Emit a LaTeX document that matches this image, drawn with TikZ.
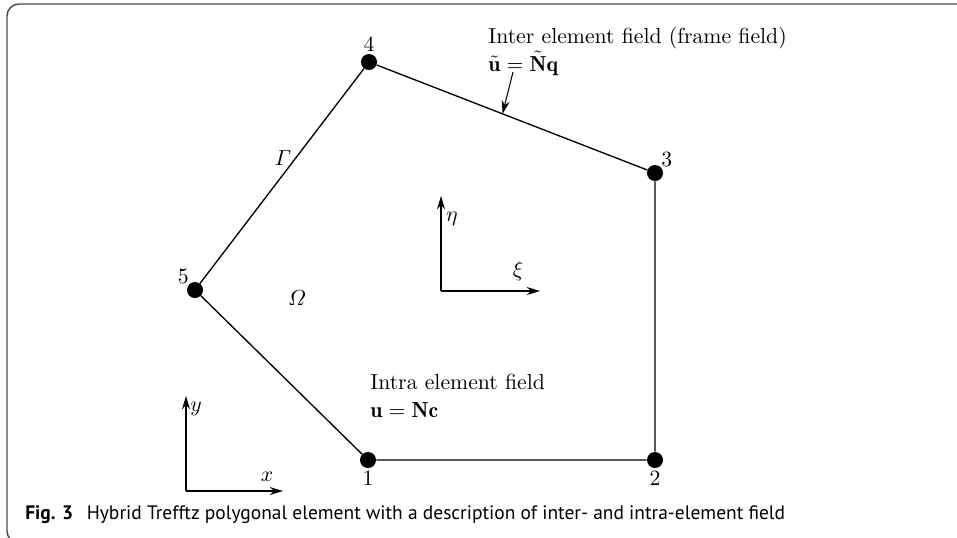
\documentclass[tikz,border=0pt]{standalone}
\usepackage{amsmath}
\usepackage{fontspec}
\usetikzlibrary{arrows.meta}
\newfontfamily\capfont{PT Sans}
\tikzset{
  vertex/.style={circle, fill=black, inner sep=0pt, minimum size=12pt},
  edge/.style={line width=1pt},
  axis/.style={->, line width=0.8pt},
  lbl/.style={scale=1.63, transform shape},
  field/.style={lbl, anchor=north west, align=left, inner sep=0pt},
}
\begin{document}
\begin{tikzpicture}[>={Stealth[length=10pt,width=6pt]}, x=0.75pt, y=-0.75pt, font=\fontsize{10}{12.6}\selectfont]
\useasboundingbox (0,0) rectangle (957,537);
% frame
\draw[gray!60!black, line width=1.1pt, rounded corners=9pt] (975,4) -- (7,4) -- (7,543) -- (40,543);
% element
\node[vertex, label={[lbl, inner sep=1pt]below:1}] (n1) at (368,460) {};
\node[vertex, label={[lbl, inner sep=1pt]below:2}] (n2) at (655,460) {};
\node[vertex, label={[lbl, inner sep=0pt]above right:3}] (n3) at (655,173) {};
\node[vertex, label={[lbl, inner sep=1pt]above:4}] (n4) at (369,62) {};
\node[vertex, label={[lbl, inner sep=0pt]above left:5}] (n5) at (195,290) {};
\draw[edge] (n1) -- (n2) -- (n3) -- node[pos=0.535, coordinate] (hit) {} (n4) -- (n5) -- (n1);
\node[lbl] (gamma) at (283,158) {$\varGamma$};
\node[lbl] (omega) at (297,298) {$\varOmega$};
% fields
\node[field] (inter) at (488,27) {Inter element field (frame field)\\$\tilde{\mathbf{u}}=\tilde{\mathbf{N}}\mathbf{q}$};
\coordinate (tail) at (513,72);
\draw[axis] (tail) -- (hit);
\node[field] (intra) at (370,374) {Intra element field\\$\mathbf{u}=\mathbf{N}\mathbf{c}$};
% local axes
\coordinate (lo) at (441,291);
\coordinate (leta) at (441,196);
\coordinate (lxi) at (540,291);
\draw[axis] (lo) -- (leta);
\draw[axis] (lo) -- (lxi);
\node[lbl] (eta) at (452,219) {$\eta$};
\node[lbl] (xi) at (518,271) {$\xi$};
% global axes
\coordinate (go) at (186,491);
\coordinate (gy) at (186,396);
\coordinate (gx) at (283,491);
\draw[axis] (go) -- (gy);
\draw[axis] (go) -- (gx);
\node[lbl] (ylab) at (196,409) {$y$};
\node[lbl] (xlab) at (267,477) {$x$};
% caption
\node[anchor=base west, inner sep=0pt, font=\capfont\fontsize{14.6}{17}\selectfont] (caption) at (25,519) {\textbf{Fig. 3}\hspace{0.7em}Hybrid Trefftz polygonal element with a description of inter- and intra-element field};
\end{tikzpicture}
\end{document}
